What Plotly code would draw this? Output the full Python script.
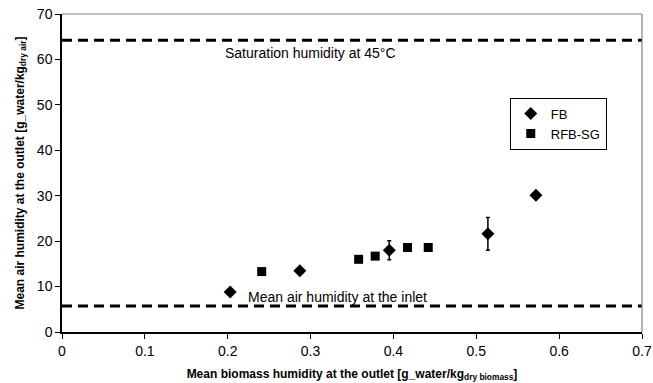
import plotly.graph_objects as go

fb_x = [0.203, 0.287, 0.395, 0.514, 0.572]
fb_y = [8.8, 13.5, 18.0, 21.6, 30.1]
fb_err = [0, 0, 2.1, 3.6, 0]

rfb_x = [0.241, 0.358, 0.378, 0.417, 0.442]
rfb_y = [13.3, 16.0, 16.7, 18.6, 18.6]

sat_level = 64.2
inlet_level = 5.7

x_ticks = [0, 0.1, 0.2, 0.3, 0.4, 0.5, 0.6, 0.7]
x_tick_labels = ["0", "0.1", "0.2", "0.3", "0.4", "0.5", "0.6", "0.7"]
y_ticks = [0, 10, 20, 30, 40, 50, 60, 70]

FONT = "Liberation Sans, Arial, sans-serif"

fig = go.Figure()

fig.add_trace(go.Scatter(
    x=[0, 0.7], y=[sat_level, sat_level], mode="lines",
    line=dict(color="black", width=3, dash="10px,6px"), showlegend=False, hoverinfo="skip"))
fig.add_trace(go.Scatter(
    x=[0, 0.7], y=[inlet_level, inlet_level], mode="lines",
    line=dict(color="black", width=3, dash="10px,6px"), showlegend=False, hoverinfo="skip"))

fig.add_trace(go.Scatter(
    x=fb_x, y=fb_y, mode="markers", name="FB",
    marker=dict(symbol="diamond", size=10, color="black"),
    error_y=dict(type="data", array=fb_err, visible=True, color="black", thickness=1.5, width=2)))
fig.add_trace(go.Scatter(
    x=rfb_x, y=rfb_y, mode="markers", name="RFB-SG",
    marker=dict(symbol="square", size=9, color="black")))

fig.add_annotation(x=0.3, y=61.5, xref="x", yref="y", text="Saturation humidity at 45°C",
                   showarrow=False, xanchor="center", yanchor="middle",
                   font=dict(family=FONT, size=14, color="black"))
fig.add_annotation(x=0.222, y=7.8, xref="x", yref="y", text="Mean air humidity at the inlet",
                   showarrow=False, xanchor="left", yanchor="middle",
                   font=dict(family=FONT, size=14, color="black"))

fig.update_layout(
    width=653, height=383,
    margin=dict(l=62, r=11, t=14, b=51),
    paper_bgcolor="white", plot_bgcolor="white",
    font=dict(family=FONT, color="black"),
    legend=dict(x=0.772, y=0.737, xanchor="left", yanchor="top",
                bordercolor="black", borderwidth=1, bgcolor="white",
                font=dict(family=FONT, size=13, color="black"),
                itemwidth=30, tracegroupgap=0),
    showlegend=True,
)

fig.update_xaxes(
    range=[0, 0.7], tickvals=x_ticks, ticktext=x_tick_labels, automargin=False,
    showgrid=False, zeroline=False,
    showline=True, linecolor="black", linewidth=1.5, mirror=False,
    ticks="outside", ticklen=5, tickcolor="black",
    tickfont=dict(family=FONT, size=14, color="black"),
    title=dict(text="<b>Mean biomass humidity at the outlet [g_water/kg<sub>dry biomass</sub>]</b>",
               font=dict(family=FONT, size=12, color="black"), standoff=12),
)
fig.update_yaxes(
    range=[0, 70], tickvals=y_ticks, automargin=False,
    showgrid=False, zeroline=False,
    showline=True, linecolor="black", linewidth=1.5,
    ticks="outside", ticklen=5, tickcolor="black",
    tickfont=dict(family=FONT, size=14, color="black"),
    title=dict(text="<b>Mean air humidity at the outlet [g_water/kg<sub>dry air</sub>]</b>",
               font=dict(family=FONT, size=12, color="black"), standoff=10),
)

# grey border on top and right
fig.add_shape(type="line", xref="paper", yref="paper", x0=0, x1=1, y0=1, y1=1,
              line=dict(color="#808080", width=1.2))
fig.add_shape(type="line", xref="paper", yref="paper", x0=1, x1=1, y0=0, y1=1,
              line=dict(color="#808080", width=1.2))

fig.write_html("out.html")
